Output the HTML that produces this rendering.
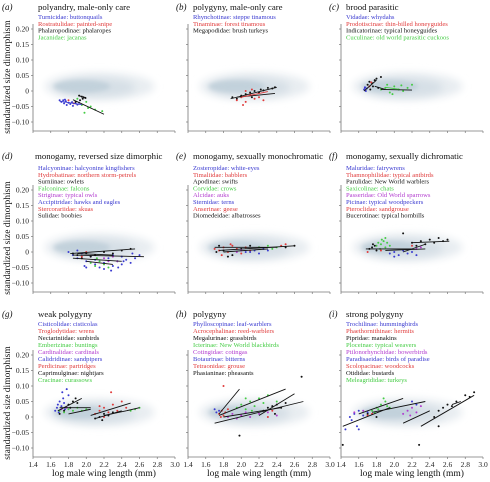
<!DOCTYPE html>
<html><head><meta charset="utf-8">
<style>
html,body{margin:0;padding:0;background:#fff;}
svg{display:block;font-family:"Liberation Serif",serif;}
</style></head>
<body>
<svg id="fig" width="490" height="482" viewBox="0 0 490 482" xmlns="http://www.w3.org/2000/svg">
<defs>
<filter id="b2" x="-50%" y="-50%" width="200%" height="200%"><feGaussianBlur stdDeviation="2.2"/></filter>
<filter id="b4" x="-50%" y="-50%" width="200%" height="200%"><feGaussianBlur stdDeviation="4"/></filter>
</defs>
</svg>
<script>
const xTicks = [1.4,1.6,1.8,2.0,2.2,2.4,2.6,2.8,3.0];
const xTickLabels = ["1.4","1.6","1.8","2.0","2.2","2.4","2.6","2.8","3.0"];
const yTicks = [0.20,0.15,0.10,0.05,0,-0.05,-0.10];
const yTickLabels = ["0.20","0.15","0.10","0.05","0","\u22120.05","\u22120.10"];
const panelLetters = ["(a)","(b)","(c)","(d)","(e)","(f)","(g)","(h)","(i)"];
const panelTitles = ["polyandry, male-only care","polygyny, male-only care","brood parasitic",
 "monogamy, reversed size dimorphic","monogamy, sexually monochromatic","monogamy, sexually dichromatic",
 "weak polygyny","polygyny","strong polygyny"];
const legendA = [["b","Turnicidae: buttonquails"],["r","Rostratulidae: painted-snipe"],["k","Phalaropodinae: phalaropes"],["g","Jacanidae: jacanas"]];
const legendB = [["b","Rhynchotinae: steppe tinamous"],["r","Tinaminae: forest tinamous"],["k","Megapodidae: brush turkeys"]];
const legendC = [["b","Vidadae: whydahs"],["r","Prodotiscinae: thin-billed honeyguides"],["k","Indicatorinae: typical honeyguides"],["g","Cuculinae: old world parasitic cuckoos"]];
const legendD = [["b","Halcyoninae: halcyonine kingfishers"],["r","Hydrobatinae: northern storm-petrels"],["k","Surniinae: owlets"],["g","Falconinae: falcons"],["p","Striginae: typical owls"],["b","Accipitridae: hawks and eagles"],["r","Stercorariidae: skuas"],["k","Sulidae: boobies"]];
const legendE = [["b","Zosteropidae: white-eyes"],["r","Timaliidae: babblers"],["k","Apodinae: swifts"],["g","Corvidae: crows"],["p","Alcidae: auks"],["b","Sternidae: terns"],["r","Anserinae: geese"],["k","Diomedeidae: albatrosses"]];
const legendF = [["b","Maluridae: fairywrens"],["r","Thamnophilidae: typical antbirds"],["k","Parulidae: New World warblers"],["g","Saxicolinae: chats"],["p","Passeridae: Old World sparrows"],["b","Picinae: typical woodpeckers"],["r","Pteroclidae: sandgrouse"],["k","Bucerotinae: typical hornbills"]];
const legendG = [["b","Cisticolidae: cisticolas"],["r","Troglodytidae: wrens"],["k","Nectariniidae: sunbirds"],["g","Emberizinae: buntings"],["p","Cardinalidae: cardinals"],["b","Calidridinae: sandpipers"],["r","Perdicinae: partridges"],["k","Caprimulginae: nightjars"],["g","Cracinae: curassows"]];
const legendH = [["b","Phylloscopinae: leaf-warblers"],["r","Acrocephalinae: reed-warblers"],["k","Megalurinae: grassbirds"],["g","Icterinae: New World blackbirds"],["p","Cotingidae: cotingas"],["b","Botaurinae:  bitterns"],["r","Tetraonidae: grouse"],["k","Phasianinae: pheasants"]];
const legendI = [["b","Trochilinae: hummingbirds"],["r","Phaethornithinae: hermits"],["k","Pipridae: manakins"],["g","Ploceinae: typical weavers"],["p","Ptilonorhynchidae: bowerbirds"],["b","Paradisaeidae: birds of paradise"],["r","Scolopacinae: woodcocks"],["k","Otididae: bustards"],["g","Meleagrididae: turkeys"]];

const ptsA = [["b",[1.70,-0.030,1.72,-0.035,1.74,-0.030,1.75,-0.040,1.77,-0.033,1.78,-0.045,1.80,-0.038,1.82,-0.042,1.84,-0.036,1.85,-0.048,1.88,-0.040,1.90,-0.044,1.92,-0.038,1.76,-0.028]],["g",[1.90,-0.025,1.95,-0.045,2.00,-0.035,2.02,-0.055,2.05,-0.050,2.10,-0.060,2.18,-0.065,1.98,-0.070]],["k",[1.92,-0.015,1.95,-0.018,1.97,-0.020,1.99,-0.022,1.96,-0.025,1.93,-0.030,1.88,-0.035]],["r",[1.80,-0.030,1.86,-0.040]]];
const fitA = [[1.70,-0.033,1.95,-0.044,"b"],[1.85,-0.028,2.2,-0.075,"k"],[1.92,-0.015,2.0,-0.024,"k"]];
const ptsB = [["k",[2.0,-0.015,2.05,-0.01,2.1,-0.005,2.15,0.0,2.2,-0.005,2.22,0.005,2.25,0.002,2.3,0.01,2.35,0.008,2.38,0.012,1.95,-0.025,1.9,-0.02,2.12,-0.02]],["r",[1.95,-0.03,2.0,-0.02,2.05,-0.035,2.1,-0.01,2.15,-0.025,2.2,-0.02,2.25,-0.03,2.05,0.0,2.12,0.005,2.02,-0.045]]];
const fitB = [[1.88,-0.025,2.4,0.012,"k"],[1.95,-0.02,2.38,-0.008,"k"],[2.0,-0.02,2.3,-0.002,"r"]];
const ptsC = [["b",[1.66,0.005,1.67,0.01,1.68,0.0,1.69,0.008,1.67,0.012]],["k",[1.70,0.02,1.72,0.03,1.75,0.025,1.78,0.035,1.80,0.04,1.82,0.01,1.73,0.005,1.85,0.045,1.76,0.015]],["g",[1.85,0.005,1.9,0.01,1.95,-0.005,2.0,0.015,2.05,0.005,2.1,0.0,2.15,0.01,2.2,0.02,1.92,0.02,1.98,-0.01,2.08,0.018]],["r",[1.72,0.015,1.74,0.028]]];
const fitC = [[1.66,0.0,1.8,0.035,"k"],[1.78,0.015,1.9,0.005,"k"],[1.85,0.005,2.2,0.003,"k"],[1.9,0.012,2.05,0.006,"g"]];
const ptsD = [["b",[1.8,0.0,1.85,-0.01,1.9,-0.02,1.95,-0.005,2.0,-0.03,2.05,-0.015,2.1,-0.04,2.15,-0.05,2.2,-0.035,2.25,-0.02,2.3,-0.045,2.35,-0.03,2.4,-0.015,2.45,-0.025,2.5,-0.035,2.55,-0.02,2.6,-0.01,2.2,-0.055,2.1,-0.025,2.3,-0.01,2.4,-0.04,2.0,-0.05,1.9,0.005,2.28,-0.06,2.52,-0.005,1.98,-0.045,2.42,-0.03,2.36,-0.05]],["g",[2.05,-0.035,2.1,-0.045,2.15,-0.03,2.2,-0.04,2.25,-0.05,2.12,-0.02]],["k",[1.85,-0.005,1.9,-0.01,2.0,-0.005,2.1,-0.01,2.2,0.0,2.3,-0.005,2.4,0.005,2.5,0.01,1.95,-0.02,2.05,-0.015]],["p",[2.2,-0.02,2.3,-0.015,2.35,-0.03,2.25,-0.03]],["r",[1.95,-0.015,2.0,0.0]]];
const fitD = [[1.82,-0.005,2.55,0.01,"k"],[1.85,-0.01,2.65,-0.015,"k"],[1.85,-0.02,2.4,-0.03,"k"],[2.0,-0.03,2.3,-0.04,"k"],[1.9,-0.005,2.3,-0.01,"k"]];
const ptsE = [["r",[1.7,0.01,1.75,0.005,1.8,0.015,1.85,0.0,1.9,0.02,1.95,0.01,2.0,-0.005,2.05,0.015,2.1,0.005,1.78,-0.01,1.88,0.025,2.45,0.02,2.5,0.025]],["k",[1.72,0.0,1.8,0.005,1.9,-0.01,2.0,0.01,2.1,0.02,2.2,0.015,2.5,0.015,2.6,0.02,1.85,-0.015,1.75,0.02]],["b",[2.1,0.0,2.15,0.005,2.2,-0.005,2.25,0.01,2.3,0.005,2.05,0.0]],["g",[2.2,0.015,2.3,0.02,2.35,0.01,2.4,0.015]],["p",[1.95,0.0,2.0,0.005]]];
const fitE = [[1.7,0.015,2.4,0.015,"k"],[1.75,0.005,2.6,0.02,"k"],[1.8,0.0,2.3,0.01,"k"]];
const ptsF = [["g",[1.8,0.02,1.82,0.03,1.85,0.025,1.88,0.035,1.9,0.015,1.92,0.03,1.86,0.04,1.84,0.01,1.95,0.02,1.9,0.045]],["k",[1.72,0.01,1.75,0.015,1.78,0.02,1.8,0.005,1.76,0.025,2.2,0.03,2.3,0.035,2.35,0.025,2.4,0.04,2.45,0.03,2.5,0.045,2.55,0.035,2.6,0.04,2.25,0.02,2.1,0.06]],["b",[1.95,-0.005,2.0,0.0,2.05,-0.01,2.1,0.005,2.15,-0.005,2.2,0.0,2.25,-0.01,2.0,-0.015]],["r",[1.7,0.0,1.85,0.005,2.2,0.02]],["p",[2.25,0.01,2.3,0.015]]];
const fitF = [[1.68,0.01,2.2,0.01,"k"],[2.2,0.03,2.62,0.035,"k"],[1.9,0.005,2.35,0.01,"k"],[2.1,0.0,2.35,0.025,"k"]];
const ptsG = [["b",[1.65,0.02,1.67,0.03,1.68,0.04,1.7,0.05,1.72,0.035,1.74,0.06,1.76,0.025,1.78,0.09,1.8,0.07,1.75,0.045,1.69,0.015,1.73,0.08]],["k",[1.7,0.01,1.75,0.02,1.8,0.04,1.85,0.05,1.88,0.06,1.82,0.03,1.9,0.045]],["g",[1.7,0.02,1.75,0.015,1.8,0.025,1.85,0.02,1.9,0.03,1.95,0.02,2.0,0.025,2.55,0.025,2.6,0.03,2.5,0.02]],["r",[2.1,0.01,2.15,0.02,2.2,0.03,2.25,0.015,2.3,0.04,2.35,0.02,2.2,0.0,2.4,0.05,2.15,0.035,2.28,0.08,2.45,0.03]],["k",[2.1,-0.005,2.15,0.0,2.2,0.01,2.25,0.005,2.3,0.015,2.18,-0.01]],["p",[1.72,0.025,1.78,0.03]]];
const fitG = [[1.68,0.02,1.95,0.06,"k"],[1.7,0.03,2.05,0.03,"k"],[1.8,0.01,2.05,0.025,"k"],[2.05,0.005,2.5,0.045,"k"],[2.1,-0.005,2.4,0.02,"k"],[2.2,0.005,2.45,0.02,"k"],[2.45,0.02,2.6,0.03,"k"]];
const ptsH = [["b",[1.72,0.015,1.75,0.02,1.7,0.025]],["r",[1.75,0.01,1.78,0.02,1.8,0.005,1.82,0.015,1.85,0.025,1.77,0.0,2.3,0.0,2.35,0.02,1.8,0.1]],["p",[1.85,0.0,1.9,0.01,1.95,-0.005,2.0,0.005,2.1,0.0,2.2,0.01,2.3,0.015,2.4,0.005,2.05,0.015]],["g",[1.95,0.03,2.0,0.04,2.05,0.025,2.1,0.05,2.15,0.035,2.2,0.06,2.25,0.045,2.3,0.07,2.4,0.05,2.05,0.06,2.12,0.02]],["k",[2.25,0.02,2.3,0.03,2.35,0.035,2.4,0.04,2.45,0.03,2.5,0.045,2.38,0.01,2.68,0.13,1.98,-0.06]]];
const fitH = [[1.75,0.01,1.98,0.09,"k"],[1.75,0.005,2.5,0.09,"k"],[1.7,-0.02,2.7,0.05,"k"],[1.8,0.0,2.45,0.03,"k"],[2.2,0.005,2.6,0.075,"k"]];
const ptsI = [["b",[1.45,-0.04,1.5,0.0,1.55,0.01,1.6,0.02,1.65,0.005,1.7,0.015,1.58,-0.03,1.52,-0.01,2.2,0.05,2.25,0.04,1.6,-0.04]],["p",[1.55,0.015,1.65,0.02,2.1,0.01,2.15,0.02,2.2,0.03,2.25,0.015,2.3,0.035,2.18,0.005]],["g",[1.75,0.02,1.8,0.03,1.85,0.04,1.9,0.05,1.82,0.025,1.88,0.06,1.92,0.035,1.78,0.015,1.95,0.03]],["k",[1.7,0.01,1.8,0.0,2.45,0.0,2.5,0.02,2.55,0.03,2.6,0.04,2.65,0.035,2.7,0.05,2.8,0.07,2.85,0.065,2.9,0.08,2.5,-0.03,1.42,-0.09,2.28,-0.09]],["r",[1.7,0.005,1.75,0.01]]];
const fitI = [[1.42,-0.03,1.95,0.03,"k"],[1.6,0.01,2.1,0.06,"k"],[1.75,0.015,2.35,0.05,"k"],[2.1,-0.02,2.4,0.02,"k"],[2.3,-0.03,2.9,0.07,"k"],[2.65,0.04,2.75,0.05,"k"]];

const legends=[legendA,legendB,legendC,legendD,legendE,legendF,legendG,legendH,legendI];
const pts=[ptsA,ptsB,ptsC,ptsD,ptsE,ptsF,ptsG,ptsH,ptsI];
const fits=[fitA,fitB,fitC,fitD,fitE,fitF,fitG,fitH,fitI];
const COL={b:"#3a3ad0",r:"#e03a3a",k:"#111",g:"#44cc44",p:"#b23ccf"};
const NS="http://www.w3.org/2000/svg";
const svg=document.getElementById("fig");
const colX=[33,188,341], rowZero=[91,252,417], titleY=[10,159,317], legY=[14,165,321], legStep=[6.8,6.8,7];
const XW=88.75, YS=310;
function mk(tag,attrs,parent){const e=document.createElementNS(NS,tag);for(const k in attrs)e.setAttribute(k,attrs[k]);(parent||svg).appendChild(e);return e;}

for(let i=0;i<9;i++){
  const c=i%3,r=Math.floor(i/3);
  const X=v=>colX[c]+(v-1.4)*XW, Y=v=>rowZero[r]-v*YS;
  const g=mk("g",{});
  
  
  const cl=mk("g",{},g);
  
  
  mk("ellipse",{cx:X(2.15),cy:Y(0.015),rx:0.62*XW,ry:0.045*YS,fill:"#e8edf1",filter:"url(#b4)"},cl);
  mk("ellipse",{cx:X(2.1),cy:Y(0.012),rx:0.45*XW,ry:0.03*YS,fill:"#d6dfe6",filter:"url(#b4)"},cl);
  mk("ellipse",{cx:X(1.95),cy:Y(0.015),rx:0.32*XW,ry:0.02*YS,fill:"#c2d1db",filter:"url(#b2)"},cl);
  const top=rowZero[r]-67, bot=rowZero[r]+40, right=colX[c]+1.6*XW;
  const ya=mk("line",{x1:colX[c],y1:top,x2:colX[c],y2:bot,stroke:"#777","stroke-width":0.8},g);
  
  const xa=mk("line",{x1:colX[c],y1:bot,x2:right,y2:bot,stroke:"#777","stroke-width":0.8},g);
  
  yTicks.forEach((t,k)=>{
    mk("line",{x1:colX[c]-2,y1:Y(t),x2:colX[c],y2:Y(t),stroke:"#777","stroke-width":0.7},g);
    if(c===0){const tx=mk("text",{x:colX[c]-4,y:Y(t)+2.5,"font-size":7.5,"text-anchor":"end",fill:"#222"},g);tx.textContent=yTickLabels[k];
      }
  });
  xTicks.forEach((t,k)=>{
    mk("line",{x1:X(t),y1:bot,x2:X(t),y2:bot+2,stroke:"#777","stroke-width":0.7},g);
    if(r===2){const tx=mk("text",{x:X(t),y:bot+10,"font-size":7.5,"text-anchor":"middle",fill:"#222"},g);tx.textContent=xTickLabels[k];
      }
  });
  if(c===0){const yt=mk("text",{x:0,y:0,"font-size":9.5,"text-anchor":"middle",fill:"#111",transform:`translate(10,${rowZero[r]-14}) rotate(-90)`},g);
    yt.textContent="standardized size dimorphism";}
  if(r===2){const xt=mk("text",{x:colX[c]+71,y:476,"font-size":9.5,"text-anchor":"middle",fill:"#111"},g);
    xt.textContent="log male wing length (mm)";}
  const lt=mk("text",{x:(c===0?2:colX[c]-12),y:titleY[r],"font-size":9,"font-style":"italic",fill:"#111"},g);
  lt.textContent=panelLetters[i];
  const tt=mk("text",{x:colX[c]+(r===1&&c===0?2:5),y:titleY[r],"font-size":8.8,fill:"#111"},g);
  tt.textContent=panelTitles[i];
  legends[i].forEach((e,k)=>{
    const t=mk("text",{x:colX[c]+5,y:legY[r]+k*legStep[r]+5,"font-size":6.6,fill:COL[e[0]]},g);
    t.textContent=e[1];
  });
  pts[i].forEach(grp=>{
    const arr=grp[1];
    for(let j=0;j<arr.length;j+=2){
      const d=mk("circle",{cx:X(arr[j]),cy:Y(arr[j+1]),r:1,fill:COL[grp[0]]},g);
      
    }
  });
  fits[i].forEach(f=>{
    const l=mk("line",{x1:X(f[0]),y1:Y(f[1]),x2:X(f[2]),y2:Y(f[3]),stroke:COL[f[4]],"stroke-width":0.9},g);
    
  });
}
</script>
</body></html>
